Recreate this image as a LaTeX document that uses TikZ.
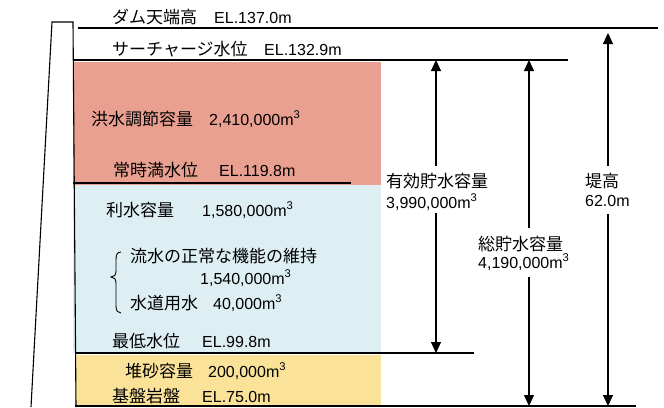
\documentclass[tikz,border=0pt]{standalone}
\usepackage{fontspec}
\setmainfont{Liberation Sans}
\newfontfamily\jp{Noto Sans CJK JP}
\usetikzlibrary{arrows.meta}
\definecolor{redc}{RGB}{234,160,145}
\definecolor{bluec}{RGB}{222,239,243}
\definecolor{yelc}{RGB}{250,226,152}
\begin{document}
\begin{tikzpicture}[x=1pt,y=-1pt,
  jt/.style={anchor=base west,inner sep=0pt,font=\jp\fontsize{17}{20}\selectfont},
  nt/.style={anchor=base west,inner sep=0pt,font=\fontsize{16}{20}\selectfont},
  ln/.style={line width=1.1pt},
  thick line/.style={line width=2.4pt},
  arr/.style={line width=1.1pt,-{Triangle[length=11pt,width=10pt]}},
  brc/.style={line width=0.9pt}]
\useasboundingbox (0,0) rectangle (664,407);
% storage zones
\fill[redc] (73,62) rectangle (381,185);
\fill[bluec] (73,185) rectangle (381,353);
\fill[yelc] (75,355) rectangle (381,407);
% dam body
\draw[ln] (31,407) -- (52,22) -- (73,22) -- (76,407);
% level lines
\draw[ln] (78,28) -- (658,28);
\draw[ln] (73,60) -- (568,60);
\draw[thick line] (73,183) -- (351,183);
\draw[ln] (75,353) -- (474,353);
\draw[ln] (75,406) -- (636,406);
% left texts
\node[jt] (t1) at (112,23) {ダム天端高};
\node[nt] (n1) at (214,23) {EL.137.0m};
\node[jt] (t2) at (112,55) {サーチャージ水位};
\node[nt] (n2) at (264,55) {EL.132.9m};
\node[jt] (t3) at (91,125) {洪水調節容量};
\node[nt] (n3) at (209,125) {2,410,000m\textsuperscript{3}};
\node[jt] (t4) at (113,176) {常時満水位};
\node[nt] (n4) at (219,176) {EL.119.8m};
\node[jt] (t5) at (106,216) {利水容量};
\node[nt] (n5) at (202,216) {1,580,000m\textsuperscript{3}};
\node[jt] (t6) at (130,262) {流水の正常な機能の維持};
\node[nt] (n6) at (200,284) {1,540,000m\textsuperscript{3}};
\node[jt] (t7) at (130,309) {水道用水};
\node[nt] (n7) at (213,309) {40,000m\textsuperscript{3}};
\node[jt] (t8) at (112,347) {最低水位};
\node[nt] (n8) at (202,347) {EL.99.8m};
\node[jt] (t9) at (125,377) {堆砂容量};
\node[nt] (n9) at (208,377) {200,000m\textsuperscript{3}};
\node[jt] (t10) at (112,402) {基盤岩盤};
\node[nt] (n10) at (202,402) {EL.75.0m};
% brace
\draw[brc] (121,252) .. controls (116,252) and (116,256) .. (116,262) -- (116,271)
  .. controls (116,275) and (114,277) .. (111,277)
  .. controls (114,277) and (116,279) .. (116,283) -- (116,306)
  .. controls (116,311) and (118,313) .. (121,313);
% right labels
\node[jt] (l1a) at (386,187) {有効貯水容量};
\node[nt] (l1b) at (386,208) {3,990,000m\textsuperscript{3}};
\node[jt] (l2a) at (478,250) {総貯水容量};
\node[nt] (l2b) at (478,268) {4,190,000m\textsuperscript{3}};
\node[jt] (l3a) at (585,187) {堤高};
\node[nt] (l3b) at (585,206) {62.0m};
% arrow end points
\coordinate (a1t) at (436,60);
\coordinate (a1b) at (436,353);
\coordinate (a2t) at (529,60);
\coordinate (a2b) at (529,406);
\coordinate (a3t) at (608,33);
\coordinate (a3b) at (608,406);
% arrows
\draw[arr,shorten <=7pt] (a1t |- l1a.north) -- (a1t);
\draw[arr,shorten <=3pt] (a1t |- l1b.south) -- (a1b);
\draw[arr,shorten <=8pt] (a2t |- l2a.north) -- (a2t);
\draw[arr,shorten <=7pt] (a2t |- l2b.south) -- (a2b);
\draw[arr,shorten <=7pt] (a3t |- l3a.north) -- (a3t);
\draw[arr,shorten <=8pt] (a3t |- l3b.south) -- (a3b);
\end{tikzpicture}
\end{document}
